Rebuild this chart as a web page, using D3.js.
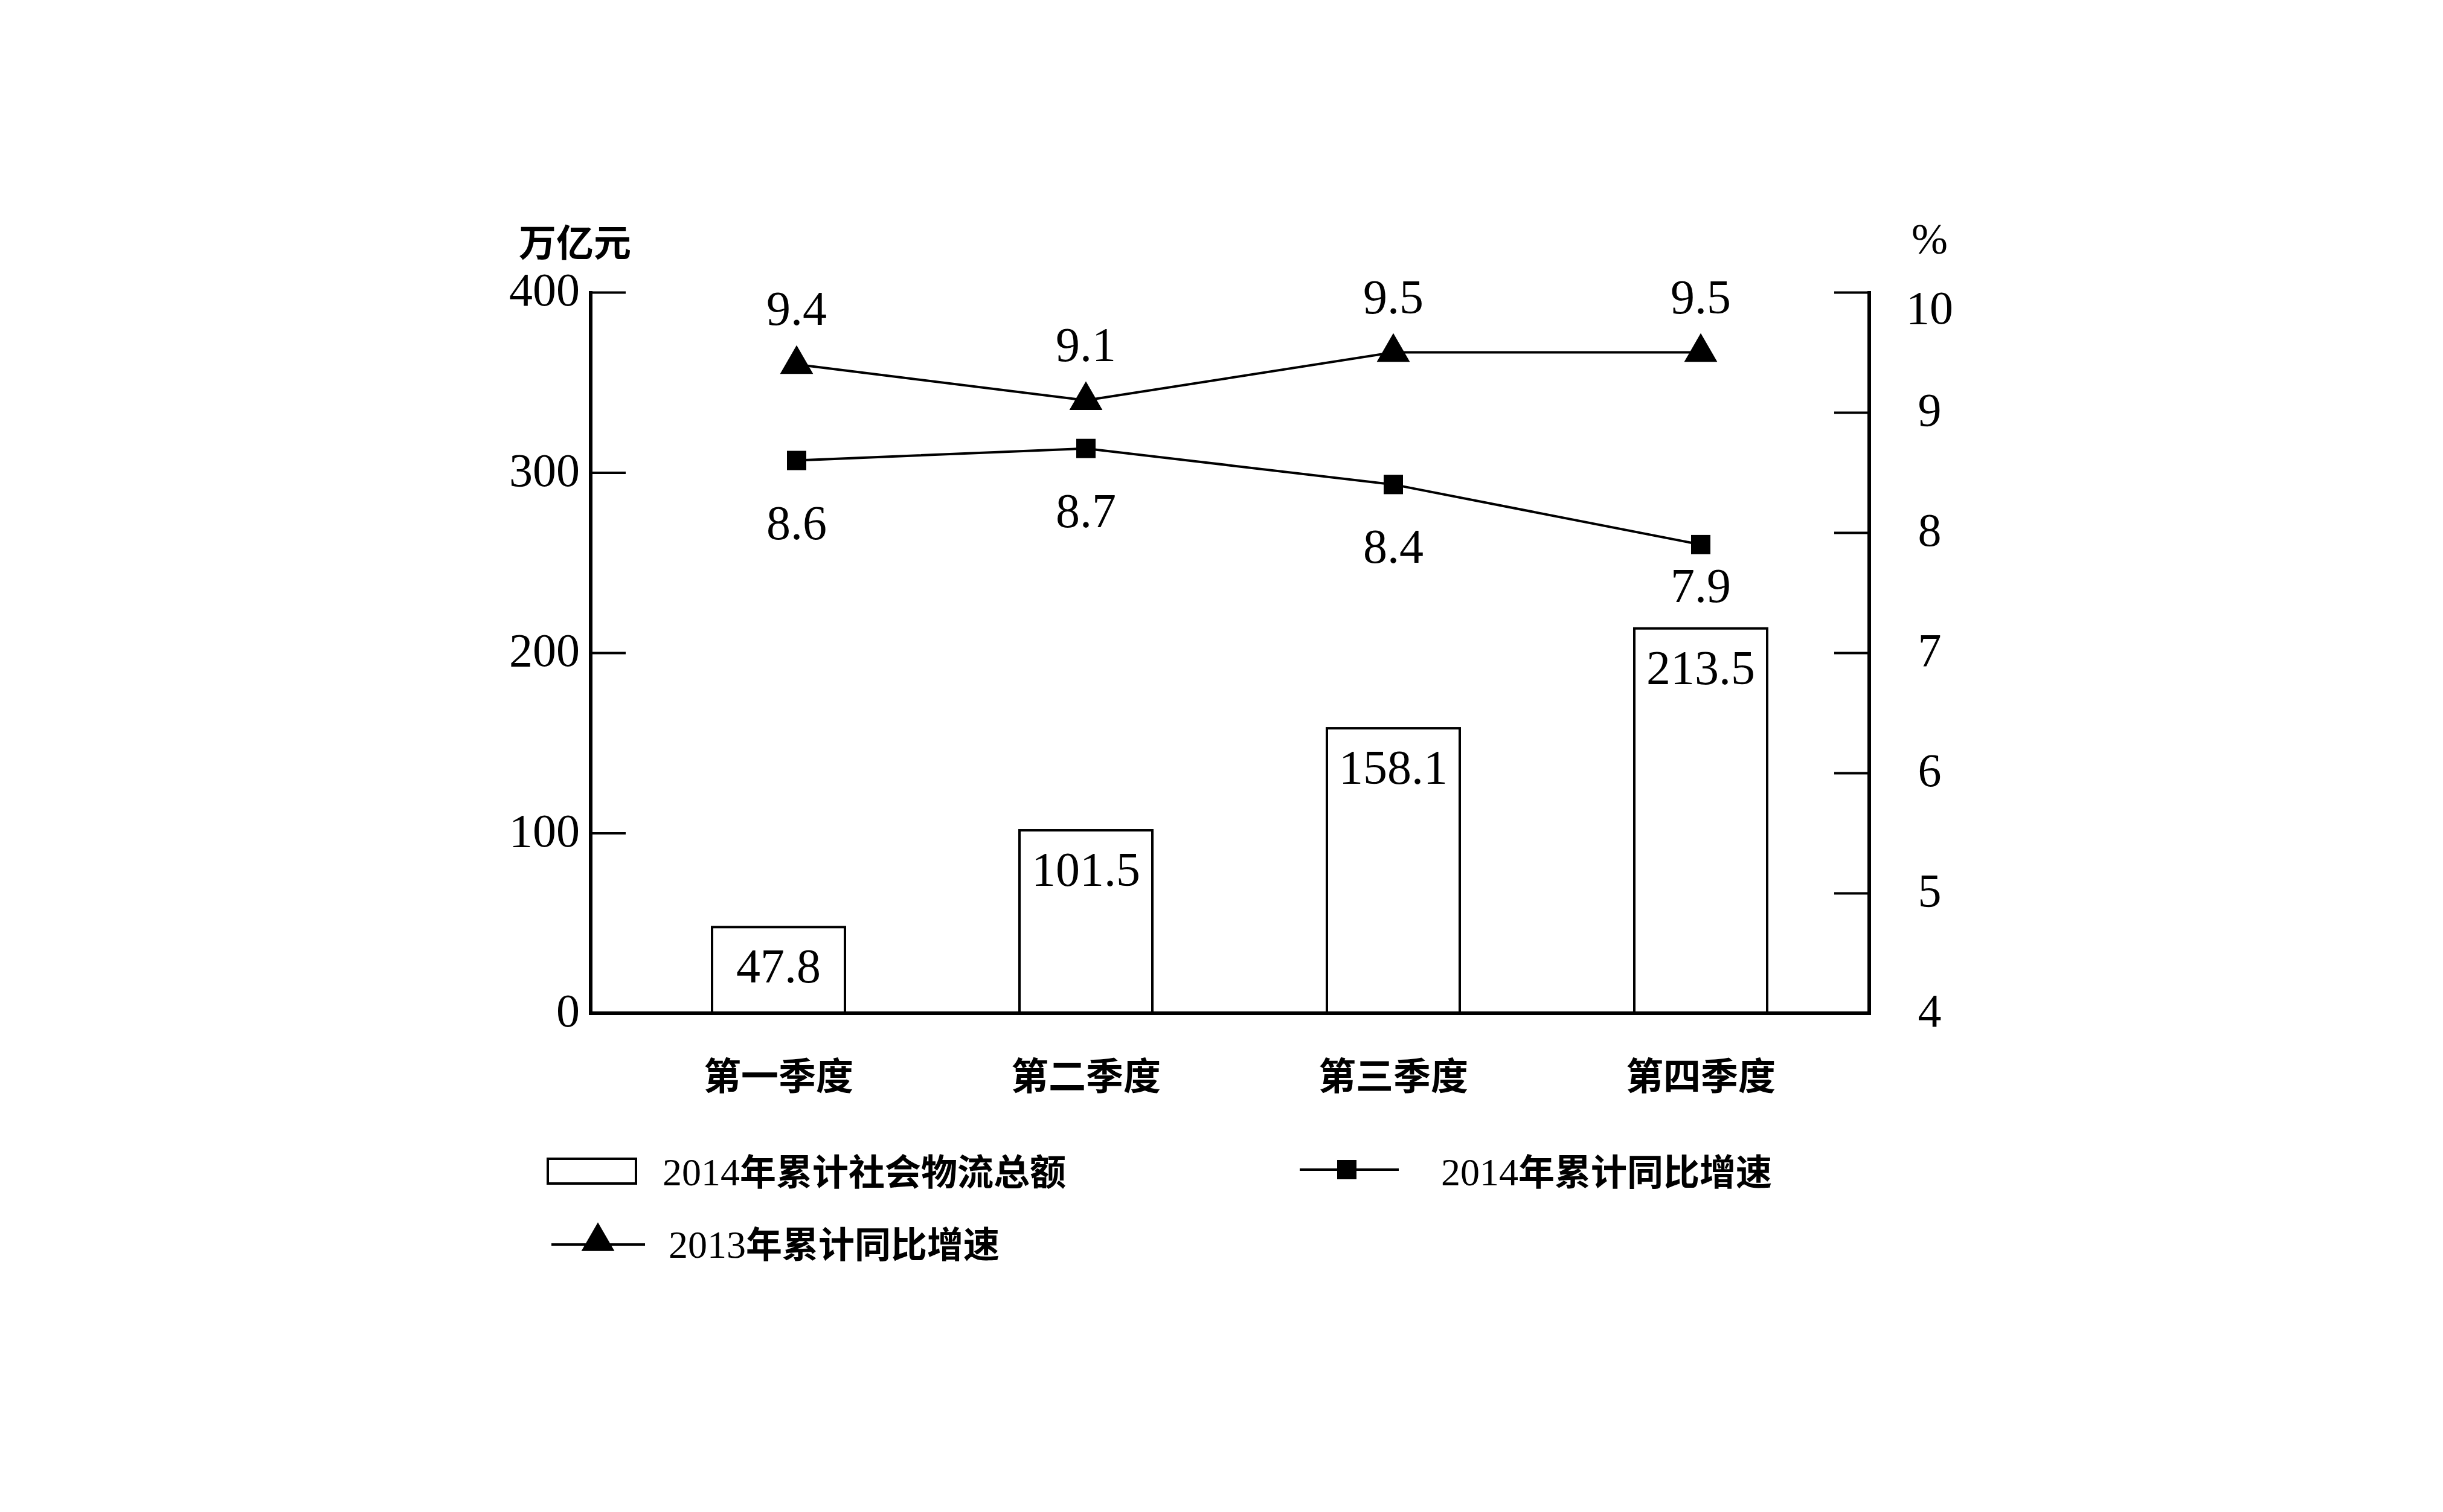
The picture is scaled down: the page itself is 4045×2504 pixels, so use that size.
<!DOCTYPE html>
<html><head><meta charset="utf-8">
<script src="https://cdn.jsdelivr.net/npm/d3@7"></script>
<style>body{margin:0;background:#fff}</style></head>
<body><svg id="c" width="4045" height="2504"></svg>
<script>
const categories=["第一季度","第二季度","第三季度","第四季度"];
const totals=[47.8,101.5,158.1,213.5];
const growth2014=[8.6,8.7,8.4,7.9];
const growth2013=[9.4,9.1,9.5,9.5];
const leftTicks=[0,100,200,300,400];
const rightTicks=[4,5,6,7,8,9,10];
const serif='"Liberation Serif","DejaVu Serif",serif';
const cjk='"Noto Sans CJK SC",sans-serif';
const svg=d3.select("#c");
const x0=978,x1=3095,yb=1678,yt=484;
const x=d3.scalePoint().domain(categories).range([1289,2816]);
const yL=d3.scaleLinear().domain([0,400]).range([yb,yt]);
const yR=d3.scaleLinear().domain([4,10]).range([yb,yt]);
const bw=220;
// bars
svg.selectAll("rect.b").data(totals).join("rect")
 .attr("x",(d,i)=>x(categories[i])-bw/2).attr("y",d=>yL(d))
 .attr("width",bw).attr("height",d=>yb-yL(d))
 .attr("fill","#fff").attr("stroke","#000").attr("stroke-width",4);
svg.selectAll("text.b").data(totals).join("text")
 .attr("x",(d,i)=>x(categories[i])).attr("y",d=>yL(d)+92)
 .attr("text-anchor","middle").attr("font-family",serif).attr("font-size",80).text(d=>d);
// axes
const gl=svg.append("g").attr("transform",`translate(${x0},0)`)
 .call(d3.axisRight(yL).tickValues(leftTicks).tickSize(58).tickFormat(""));
gl.selectAll("line").attr("stroke-width",4);
gl.select(".domain").remove();
const gr=svg.append("g").attr("transform",`translate(${x1},0)`)
 .call(d3.axisLeft(yR).tickValues(rightTicks).tickSize(58).tickFormat(""));
gr.selectAll("line").attr("stroke-width",4);
gr.select(".domain").remove();
svg.append("path").attr("d",`M${x0},${yt-2}V${yb}H${x1}V${yt-2}`).attr("fill","none").attr("stroke","#000").attr("stroke-width",6);
svg.selectAll("text.lt").data(leftTicks).join("text").attr("x",960).attr("y",d=>yL(d)+22)
 .attr("text-anchor","end").attr("font-family",serif).attr("font-size",78).text(d=>d);
svg.selectAll("text.rt").data(rightTicks).join("text").attr("x",3195).attr("y",d=>yR(d)+(d==10?52:22)+(d==4?0:0))
 .attr("text-anchor","middle").attr("font-family",serif).attr("font-size",78).text(d=>d);
svg.append("text").attr("x",952).attr("y",425).attr("text-anchor","middle").attr("font-family",cjk).attr("font-weight","bold").attr("font-size",62).text("万亿元");
svg.append("text").attr("x",3195).attr("y",420).attr("text-anchor","middle").attr("font-family",serif).attr("font-size",72).text("%");
svg.selectAll("text.c").data(categories).join("text").attr("x",d=>x(d)).attr("y",1805)
 .attr("text-anchor","middle").attr("font-family",cjk).attr("font-weight","bold").attr("font-size",62).text(d=>d);
// lines
const line=d3.line().x((d,i)=>x(categories[i])+(i==0?30:0)).y(d=>yR(d));
svg.append("path").datum(growth2013).attr("d",line).attr("fill","none").attr("stroke","#000").attr("stroke-width",4);
svg.append("path").datum(growth2014).attr("d",line).attr("fill","none").attr("stroke","#000").attr("stroke-width",4);
const tri=d3.symbol().type(d3.symbolTriangle).size(1300);
svg.selectAll("path.t").data(growth2013).join("path").attr("d",tri)
 .attr("transform",(d,i)=>`translate(${x(categories[i])+(i==0?30:0)},${yR(d)})`);
svg.selectAll("rect.s").data(growth2014).join("rect")
 .attr("x",(d,i)=>x(categories[i])+(i==0?30:0)-16).attr("y",d=>yR(d)-16).attr("width",32).attr("height",32);
svg.selectAll("text.t").data(growth2013).join("text").attr("x",(d,i)=>x(categories[i])+(i==0?30:0)).attr("y",d=>yR(d)-65)
 .attr("text-anchor","middle").attr("font-family",serif).attr("font-size",80).text(d=>d.toFixed(1));
svg.selectAll("text.s").data(growth2014).join("text").attr("x",(d,i)=>x(categories[i])+(i==0?30:0)).attr("y",(d,i)=>yR(d)+(i==3?95:130))
 .attr("text-anchor","middle").attr("font-family",serif).attr("font-size",80).text(d=>d.toFixed(1));
// legend
const lf=v=>({"font-family":serif,"font-size":66});
svg.append("rect").attr("x",907).attr("y",1919).attr("width",146).attr("height",41).attr("fill","#fff").attr("stroke","#000").attr("stroke-width",4);
const lt=(tx,ty,num,rest)=>{const t=svg.append("text").attr("x",tx).attr("y",ty).attr("font-size",64);
 t.append("tspan").attr("font-family",serif).text(num);
 t.append("tspan").attr("font-family",cjk).attr("font-weight","bold").attr("font-size",60).text(rest);};
lt(1097,1963,"2014","年累计社会物流总额");
svg.append("line").attr("x1",2152).attr("x2",2316).attr("y1",1937).attr("y2",1937).attr("stroke","#000").attr("stroke-width",4);
svg.append("rect").attr("x",2214).attr("y",1921).attr("width",32).attr("height",32);
lt(2386,1963,"2014","年累计同比增速");
svg.append("line").attr("x1",913).attr("x2",1068).attr("y1",2061).attr("y2",2061).attr("stroke","#000").attr("stroke-width",4);
svg.append("path").attr("d",tri).attr("transform","translate(990,2056)");
lt(1107,2083,"2013","年累计同比增速");
</script></body></html>
